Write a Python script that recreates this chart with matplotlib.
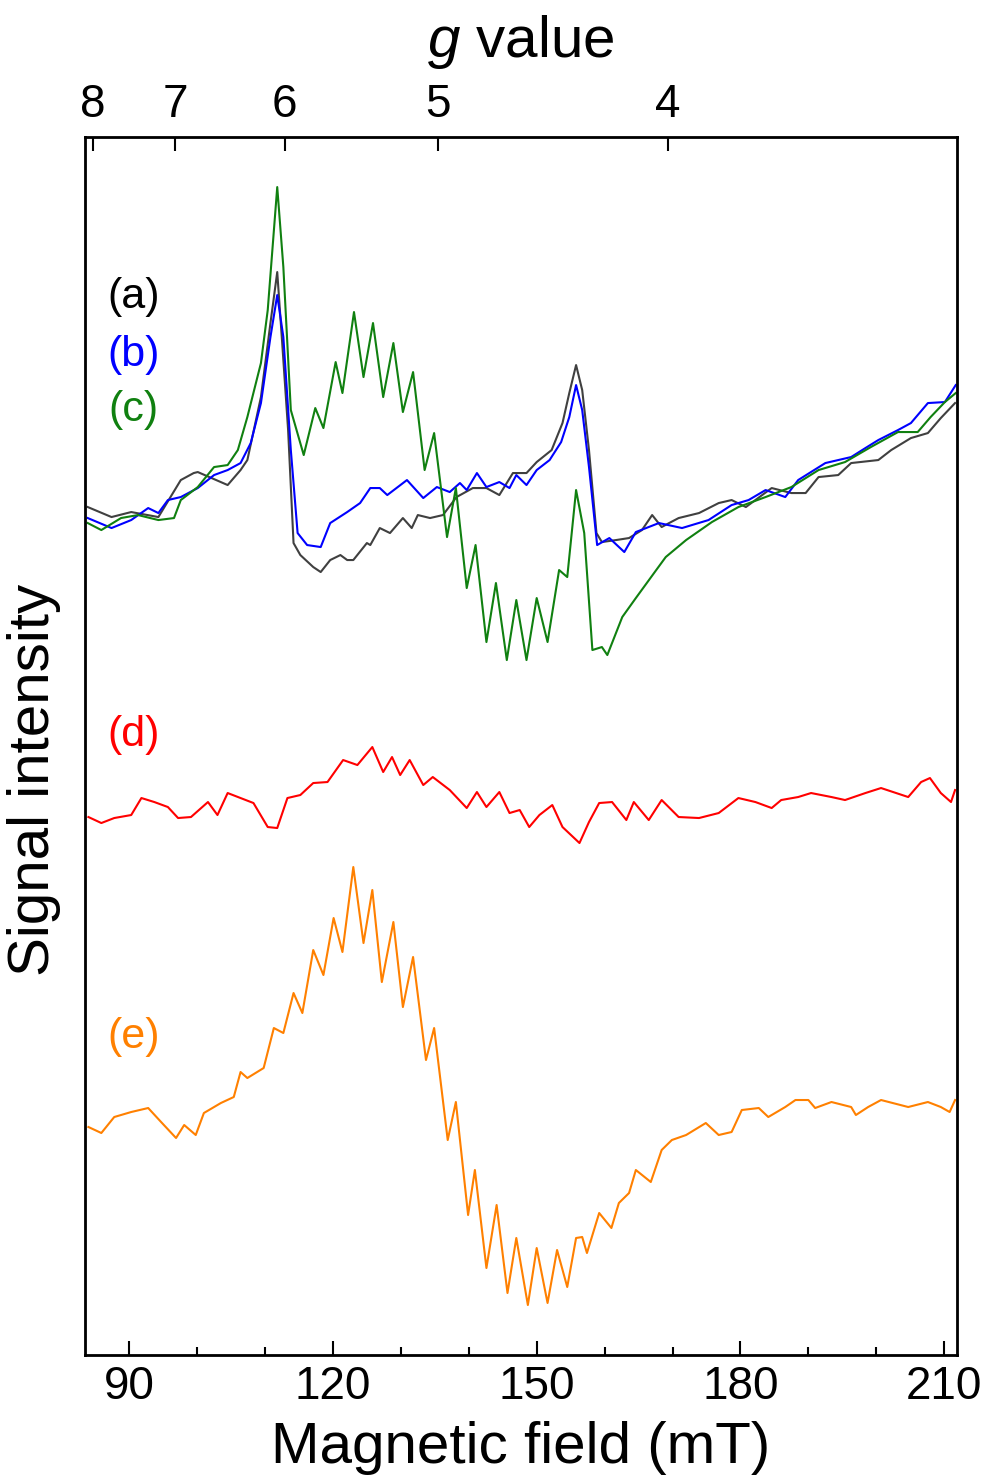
import matplotlib
matplotlib.use("Agg")
import matplotlib.pyplot as plt
from matplotlib.ticker import MultipleLocator

plt.rcParams['font.family'] = ['Liberation Sans', 'DejaVu Sans']
plt.rcParams['mathtext.fontset'] = 'custom'
plt.rcParams['mathtext.rm'] = 'Liberation Sans'
plt.rcParams['mathtext.it'] = 'Liberation Sans:italic'

# g = h*nu / (muB * B)  ->  B(mT) * g = constant
G_CONST = 677.4
g_ticks = [8, 7, 6, 5, 4]

### spectre (a) - noir
field_a = [83.9, 87.4, 90.3, 94.3, 97.6, 99.5, 100.1, 104.5, 106.4, 107.4, 109.4, 110.8,
           111.8, 112.5, 113.4, 114.2, 115.2, 117.1, 118.2, 119.6, 121.1, 122.1, 123.0,
           125.0, 125.5, 126.9, 128.4, 130.3, 131.6, 132.5, 134.3, 136.2, 138.2, 140.6,
           142.6, 144.5, 146.5, 148.5, 150.0, 152.2, 153.8, 154.8, 155.8, 156.7, 157.7,
           158.8, 159.6, 161.7, 163.6, 165.5, 167.0, 168.4, 169.5, 170.9, 173.9, 176.8,
           178.7, 180.8, 184.6, 187.5, 189.6, 191.5, 194.4, 196.3, 200.3, 202.2, 205.1,
           207.6, 209.5, 211.6]
signal_a = [848, 838, 843, 838, 875, 882, 883, 870, 885, 895, 958, 1032,
            1083, 1015, 925, 812, 800, 788, 783, 795, 800, 795, 795,
            812, 810, 827, 822, 837, 827, 840, 837, 840, 858, 867,
            867, 860, 882, 882, 893, 905, 932, 962, 990, 965, 905,
            822, 813, 815, 817, 825, 840, 828, 832, 837, 842, 852,
            855, 848, 867, 862, 862, 878, 880, 892, 895, 905, 917,
            922, 937, 952]

### spectre (b) - bleu
field_b = [83.9, 87.4, 90.3, 92.8, 94.3, 95.7, 97.6, 100.1, 102.5, 104.5, 106.4, 107.9,
           109.4, 110.8, 111.8, 112.7, 113.8, 114.8, 116.2, 118.2, 119.6, 122.1, 124.0,
           125.5, 126.9, 128.0, 130.9, 133.3, 135.3, 137.2, 138.7, 139.7, 141.2, 142.6,
           144.5, 146.0, 147.0, 148.5, 150.0, 151.9, 153.6, 154.8, 155.8, 156.7, 157.7,
           158.9, 160.7, 162.9, 164.6, 168.0, 171.4, 175.3, 178.7, 181.2, 183.7, 186.6,
           188.5, 192.5, 196.3, 198.4, 200.3, 203.2, 205.1, 207.6, 210.1, 211.7]
signal_b = [837, 827, 835, 847, 842, 855, 858, 867, 880, 885, 892, 912,
            952, 1018, 1060, 1018, 905, 822, 810, 808, 832, 843, 852,
            867, 867, 860, 875, 857, 868, 863, 872, 865, 882, 868,
            873, 867, 880, 870, 885, 895, 913, 938, 970, 945, 888,
            810, 817, 803, 823, 832, 827, 835, 850, 855, 865, 858,
            875, 892, 898, 907, 915, 925, 932, 952, 953, 970]

### spectre (c) - vert
field_c = [83.9, 85.9, 88.8, 91.3, 94.3, 96.6, 97.6, 100.1, 102.5, 104.5, 106.0, 107.4,
           109.4, 110.4, 111.8, 112.7, 113.8, 115.7, 117.4, 118.6, 120.4, 121.4, 123.1,
           124.5, 125.9, 127.4, 128.9, 130.3, 131.8, 133.5, 134.9, 136.8, 138.1, 139.7,
           141.0, 142.6, 144.0, 145.6, 147.0, 148.5, 150.0, 151.6, 153.3, 154.5, 155.8,
           157.0, 158.2, 159.6, 160.4, 162.6, 164.6, 167.6, 169.0, 172.0, 175.8, 179.7,
           183.7, 187.5, 191.5, 195.4, 199.2, 203.2, 206.1, 208.0, 210.1, 211.7]
signal_c = [832, 825, 837, 840, 835, 837, 855, 868, 888, 890, 905, 938,
            992, 1045, 1168, 1088, 945, 900, 947, 927, 993, 962, 1043,
            978, 1032, 958, 1012, 943, 983, 885, 922, 818, 867, 767,
            810, 713, 772, 695, 755, 695, 757, 713, 785, 778, 865,
            822, 705, 708, 700, 738, 757, 785, 798, 815, 833, 848,
            858, 868, 885, 893, 908, 923, 923, 938, 953, 962]

### spectre (d) - rouge
field_d = [84.0, 85.9, 87.8, 90.3, 91.8, 93.7, 95.7, 97.2, 99.1, 101.6, 103.0, 104.5,
           106.4, 108.3, 110.4, 111.8, 113.3, 115.2, 117.1, 119.2, 121.5, 123.6, 125.8,
           127.4, 128.7, 129.9, 131.3, 133.3, 134.7, 137.2, 139.7, 141.2, 142.6, 144.5,
           146.0, 147.5, 148.9, 150.4, 152.3, 153.8, 156.3, 157.7, 159.2, 161.1, 163.2,
           164.3, 166.5, 168.4, 170.9, 173.9, 176.8, 179.7, 182.2, 184.6, 186.0, 188.5,
           190.4, 193.4, 195.4, 198.4, 200.7, 204.7, 206.6, 207.9, 209.5, 211.0, 211.6]
signal_d = [538, 532, 537, 540, 557, 553, 548, 537, 538, 553, 540, 562,
            557, 552, 528, 527, 557, 560, 572, 573, 595, 590, 608,
            583, 598, 580, 595, 570, 578, 565, 547, 563, 548, 563,
            542, 545, 528, 540, 550, 528, 512, 533, 552, 553, 535,
            553, 535, 555, 538, 537, 542, 557, 553, 547, 555, 558,
            562, 558, 555, 562, 567, 558, 573, 577, 562, 553, 565]

### spectre (e) - orange
field_e = [84.0, 85.9, 87.8, 90.3, 92.8, 94.7, 96.9, 98.1, 99.8, 101.0, 103.5, 105.4,
           106.4, 107.4, 109.8, 111.3, 112.7, 114.2, 115.5, 117.1, 118.6, 120.1, 121.4,
           123.0, 124.5, 125.8, 127.2, 128.9, 130.3, 131.8, 133.7, 134.9, 136.9, 138.1,
           139.9, 140.9, 142.6, 144.1, 145.7, 147.0, 148.7, 150.0, 151.6, 153.0, 154.5,
           155.8, 156.7, 157.4, 159.2, 161.0, 162.1, 163.6, 164.6, 166.8, 168.4, 169.9,
           172.0, 174.9, 176.8, 178.7, 180.2, 182.7, 184.1, 186.6, 188.1, 190.0, 191.0,
           193.4, 196.3, 197.0, 198.8, 200.7, 204.7, 207.6, 209.5, 210.8, 211.6]
signal_e = [228, 222, 238, 243, 247, 233, 217, 230, 220, 242, 252, 258,
            283, 277, 287, 327, 322, 362, 342, 405, 380, 437, 403,
            488, 412, 465, 373, 433, 348, 398, 295, 327, 215, 253,
            140, 185, 87, 150, 62, 117, 50, 107, 52, 105, 68,
            117, 118, 102, 142, 127, 152, 162, 185, 173, 205, 215,
            220, 232, 220, 223, 245, 247, 238, 248, 255, 255, 247,
            253, 248, 240, 248, 255, 248, 253, 248, 243, 255]

labels = ["(a)", "(b)", "(c)", "(d)", "(e)"]
label_pos = [(90.6, 1058), (90.6, 1000), (90.6, 945), (90.6, 620), (90.6, 318)]
line_colors = ["#404040", "#0000ff", "#108010", "#ff0000", "#ff8000"]
label_colors = ["#000000", "#0000ff", "#108010", "#ff0000", "#ff8000"]

fig = plt.figure(figsize=(9.91, 14.77), dpi=100)
ax = fig.add_axes([0.0858, 0.0826, 0.880, 0.8246])

spectres = [(field_a, signal_a), (field_b, signal_b), (field_c, signal_c),
            (field_d, signal_d), (field_e, signal_e)]
for (f, s), c in zip(spectres, line_colors):
    ax.plot(f, s, color=c, lw=1.5)

for lab, (x, y), c in zip(labels, label_pos, label_colors):
    ax.text(x, y, lab, color=c, fontsize=31, ha='center', va='center')

ax.set_xlim(83.5, 211.9)
ax.set_ylim(0, 1218)
ax.set_yticks([])
ax.xaxis.set_major_locator(MultipleLocator(30))
ax.xaxis.set_minor_locator(MultipleLocator(10))
ax.tick_params(axis='x', which='major', direction='in', length=10, width=1.5,
               labelsize=33, pad=7)
ax.tick_params(axis='x', which='minor', direction='in', length=6, width=1.5)
for sp in ax.spines.values():
    sp.set_linewidth(2)
ax.set_xlabel("Magnetic field (mT)", fontsize=42, labelpad=9)
ax.set_ylabel("Signal intensity", fontsize=42)
ax.yaxis.set_label_coords(-0.027, 0.472)

# axe du haut : valeur de g
ax2 = ax.twiny()
ax2.set_xlim(ax.get_xlim())
ax2.set_xticks([G_CONST / g for g in g_ticks])
ax2.set_xticklabels([str(g) for g in g_ticks])
ax2.tick_params(axis='x', direction='in', length=10, width=1.5, labelsize=33, pad=7)
ax2.set_xlabel("$g$ value", fontsize=42, labelpad=19)

fig.savefig("out.png", dpi=100)
